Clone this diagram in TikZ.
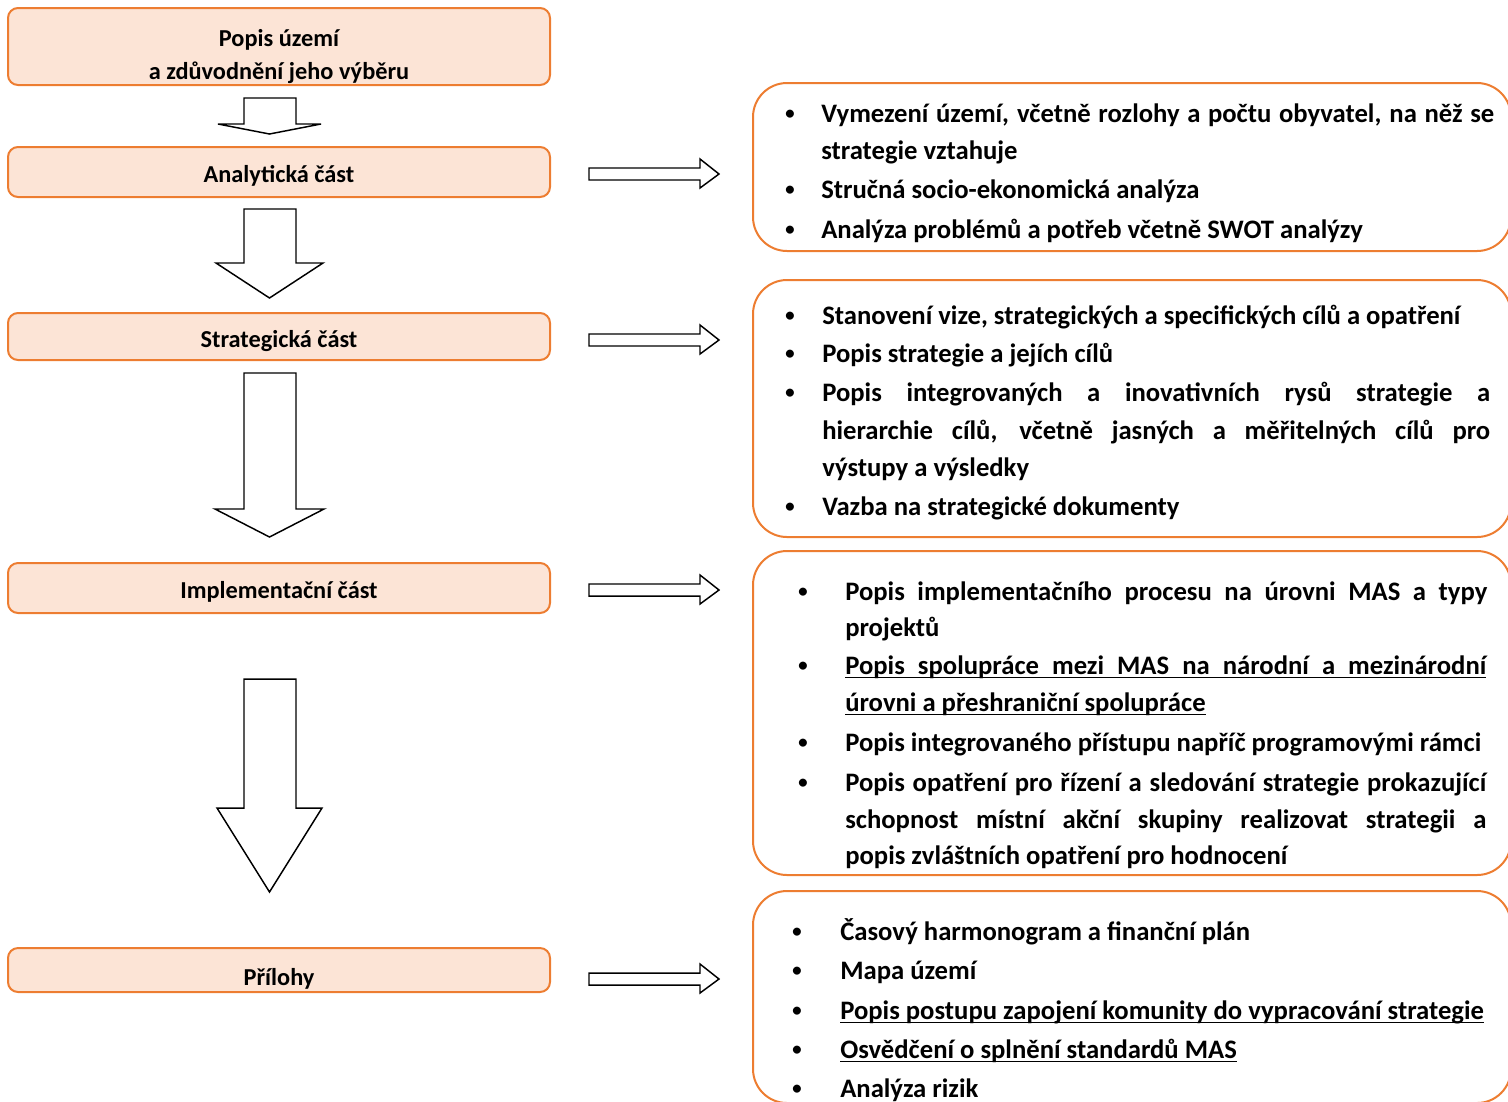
\documentclass[tikz,border=0pt]{standalone}
\usepackage{fontspec}
\setmainfont{Carlito}
\definecolor{boxorange}{HTML}{ED7D31}
\definecolor{boxfill}{HTML}{FCE4D6}
\newcommand{\ultext}[1]{\setbox0\hbox{#1}\rlap{\rule[-3.2pt]{\wd0}{1pt}}\box0}
\begin{document}
\begin{tikzpicture}[x=0.75pt,y=-0.75pt]

    \tikzset{
      leftbox/.style={
        draw=boxorange,
        fill=boxfill,
        line width=1.5pt,
        rounded corners=7.5pt,
        minimum width=406.5pt,
        inner ysep=0pt,
        text height=15.75pt,
        text depth=0pt,
        font=\bfseries\fontsize{18.25}{24.75}\selectfont,
      },
      lefttext/.style={anchor=base, inner sep=0pt, font=\bfseries\fontsize{18.25}{24.75}\selectfont},
      rightbox/.style={
        draw=boxorange,
        fill=white,
        line width=1.5pt,
        rounded corners=25.5pt,
        minimum width=568.5pt,
      },
      itemline/.style={anchor=base west, inner sep=0pt, font=\bfseries\fontsize{20}{24}\selectfont},
      dot/.style={anchor=base, inner sep=0pt, font=\fontsize{17}{17}\selectfont},
      blockarrow/.style={draw=black, fill=white, line width=1.1pt, line join=miter},
    }
    \useasboundingbox (0,0) rectangle (1508,1101);
    \clip (0,0) rectangle (1508,1101);

	% left column
	\node[leftbox, minimum height=57.75pt] (popis) at (279,46.5) {};
	\node[lefttext] (popis1) at (279,46) {Popis území};
	\node[lefttext] (popis2) at (279,79) {a zdůvodnění jeho výběru};
	\node[leftbox, minimum height=37.5pt] (analyticka) at (279,172) {Analytická část};
	\node[leftbox, minimum height=35.25pt] (strategicka) at (279,336.5) {Strategická část};
	\node[leftbox, minimum height=37.5pt] (implementacni) at (279,588) {Implementační část};
	\node[leftbox, minimum height=33pt, text height=23pt] (prilohy) at (279,970) {Přílohy};

	% down arrows
	\draw[blockarrow] (244,98)--(296,98)--(296,124)--(321,124)--(269.5,134)--(218,124)--(244,124)--cycle;
	\draw[blockarrow] (244,209)--(296,209)--(296,263)--(323,263)--(269.5,298)--(216,263)--(244,263)--cycle;
	\draw[blockarrow] (244,373)--(296,373)--(296,509)--(324,509)--(269.5,537)--(215,509)--(244,509)--cycle;
	\draw[blockarrow] (244,679)--(296,679)--(296,808)--(322,808)--(269.5,892)--(217,808)--(244,808)--cycle;

	% right arrows
	\draw[blockarrow] (589,168)--(700,168)--(700,159)--(719,174)--(700,188)--(700,180)--(589,180)--cycle;
	\draw[blockarrow] (589,334)--(700,334)--(700,325)--(719,340)--(700,354)--(700,346)--(589,346)--cycle;
	\draw[blockarrow] (589,584)--(700,584)--(700,575)--(719,590)--(700,604)--(700,596)--(589,596)--cycle;
	\draw[blockarrow] (589,973)--(700,973)--(700,964)--(719,979)--(700,993)--(700,985)--(589,985)--cycle;

	% right boxes
	\node[rightbox, minimum height=126pt] (boxA) at (1132,167) {};
	\node[rightbox, minimum height=192.75pt] (boxB) at (1132,408.5) {};
	\node[rightbox, minimum height=243pt] (boxC) at (1132,713) {};
	\node[rightbox, minimum height=159pt] (boxD) at (1132,997) {};

	% box A
	\node[dot] (pa1) at (790,122) {\raisebox{1pt}{\textbullet}};
	\node[dot] (pa3) at (790,198) {\raisebox{1pt}{\textbullet}};
	\node[dot] (pa4) at (790,238) {\raisebox{1pt}{\textbullet}};
	\node[itemline] (a1) at (821,122) {\makebox[504.75pt][s]{Vymezení území, včetně rozlohy a počtu obyvatel, na něž se}};
	\node[itemline] (a2) at (821,159) {strategie vztahuje};
	\node[itemline] (a3) at (821,198) {Stručná socio-ekonomická analýza};
	\node[itemline] (a4) at (821,238) {Analýza problémů a potřeb včetně SWOT analýzy};

	% box B
	\node[dot] (pb1) at (790,324) {\raisebox{1pt}{\textbullet}};
	\node[dot] (pb2) at (790,362) {\raisebox{1pt}{\textbullet}};
	\node[dot] (pb3) at (790,401) {\raisebox{1pt}{\textbullet}};
	\node[dot] (pb6) at (790,515) {\raisebox{1pt}{\textbullet}};
	\node[itemline] (b1) at (822,324) {Stanovení vize, strategických a specifických cílů a opatření};
	\node[itemline] (b2) at (822,362) {Popis strategie a jejích cílů};
	\node[itemline] (b3) at (822,401) {\makebox[501pt][s]{Popis integrovaných a inovativních rysů strategie a}};
	\node[itemline] (b4) at (822,439) {\makebox[501pt][s]{hierarchie cílů, včetně jasných a měřitelných cílů pro}};
	\node[itemline] (b5) at (822,476) {výstupy a výsledky};
	\node[itemline] (b6) at (822,515) {Vazba na strategické dokumenty};

	% box C
	\node[dot] (pc1) at (803,600) {\raisebox{1pt}{\textbullet}};
	\node[dot] (pc3) at (803,674) {\raisebox{1pt}{\textbullet}};
	\node[dot] (pc5) at (803,751) {\raisebox{1pt}{\textbullet}};
	\node[dot] (pc6) at (803,791) {\raisebox{1pt}{\textbullet}};
	\node[itemline] (c1) at (845,600) {\makebox[481.5pt][s]{Popis implementačního procesu na úrovni MAS a typy}};
	\node[itemline] (c2) at (845,636) {projektů};
	\node[itemline] (c3) at (845,674) {\ultext{\makebox[480.75pt][s]{Popis spolupráce mezi MAS na národní a mezinárodní}}};
	\node[itemline] (c4) at (845,711) {\ultext{úrovni a přeshraniční spolupráce}};
	\node[itemline] (c5) at (845,751) {Popis integrovaného přístupu napříč programovými rámci};
	\node[itemline] (c6) at (845,791) {\makebox[480.75pt][s]{Popis opatření pro řízení a sledování strategie prokazující}};
	\node[itemline] (c7) at (845,828) {\makebox[480.75pt][s]{schopnost místní akční skupiny realizovat strategii a}};
	\node[itemline] (c8) at (845,864) {popis zvláštních opatření pro hodnocení};

	% box D
	\node[dot] (pd1) at (797,940) {\raisebox{1pt}{\textbullet}};
	\node[dot] (pd2) at (797,979) {\raisebox{1pt}{\textbullet}};
	\node[dot] (pd3) at (797,1019) {\raisebox{1pt}{\textbullet}};
	\node[dot] (pd4) at (797,1058) {\raisebox{1pt}{\textbullet}};
	\node[dot] (pd5) at (797,1097) {\raisebox{1pt}{\textbullet}};
	\node[itemline] (d1) at (840,940) {Časový harmonogram a finanční plán};
	\node[itemline] (d2) at (840,979) {Mapa území};
	\node[itemline] (d3) at (840,1019) {\ultext{Popis postupu zapojení komunity do vypracování strategie}};
	\node[itemline] (d4) at (840,1058) {\ultext{Osvědčení o splnění standardů MAS}};
	\node[itemline] (d5) at (840,1097) {Analýza rizik};

\end{tikzpicture}
\end{document}
